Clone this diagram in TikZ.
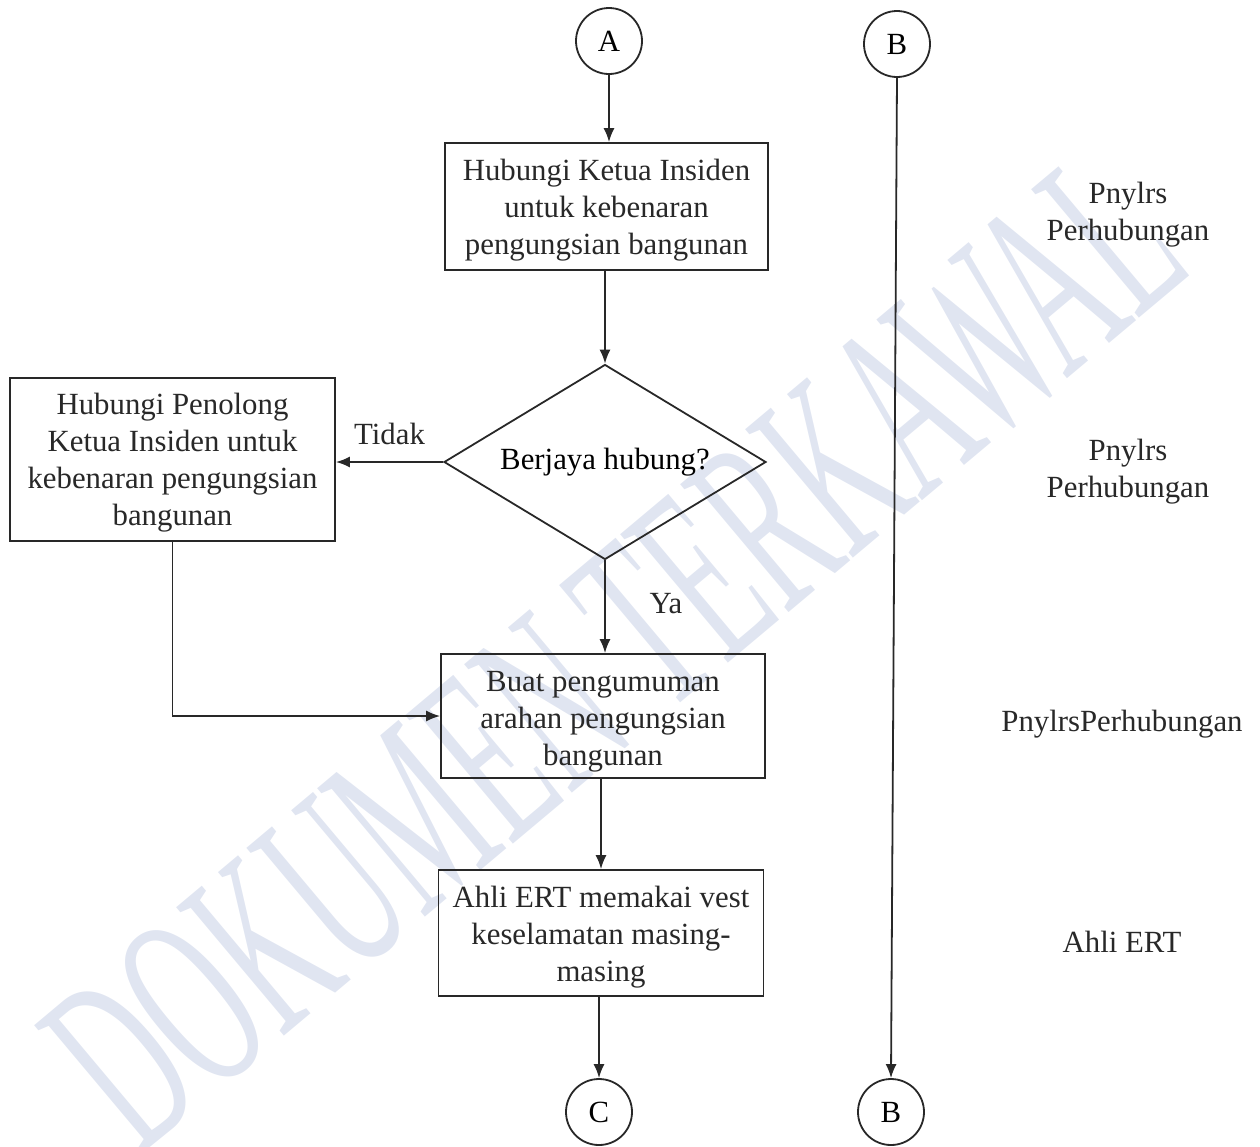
\documentclass[tikz,border=0pt]{standalone}
\usepackage{fontspec}
\setmainfont{Liberation Serif}
\usetikzlibrary{shapes.geometric,arrows.meta}
\definecolor{ink}{RGB}{40,40,40}
\definecolor{wmark}{RGB}{224,229,241}
\tikzset{
  box/.style={draw=ink,line width=0.9pt,rectangle,align=center,inner sep=0pt,
    font=\fontsize{15.4pt}{18.5pt}\selectfont},
  conn/.style={draw=ink,line width=0.9pt,circle,inner sep=0pt,minimum size=33pt,
    font=\fontsize{15.4pt}{18.5pt}\selectfont},
  decision/.style={draw=ink,line width=0.9pt,diamond,inner sep=0pt,aspect=1.65,
    minimum width=161pt,minimum height=97.5pt,font=\fontsize{15.4pt}{18.5pt}\selectfont},
  role/.style={align=center,text=ink,font=\fontsize{15.4pt}{18.5pt}\selectfont},
  lbl/.style={text=ink,font=\fontsize{15.4pt}{18.5pt}\selectfont},
  flow/.style={draw=ink,line width=0.9pt,-{Latex[length=7pt,width=5.5pt]}},
  boxtext/.style={text=ink,align=center,font=\fontsize{15.4pt}{18.5pt}\selectfont}
}
\begin{document}
\begin{tikzpicture}[x=0.5pt,y=-0.5pt]
\useasboundingbox (0,0) rectangle (1260,1147);
% watermark
\node[text=wmark,rotate=40,font=\fontsize{64pt}{64pt}\selectfont,yscale=2]
  (wm) at (615,650) {DOKUMEN TERKAWAL};
% nodes
\node[conn] (A) at (609,41) {A};
\node[conn] (Bt) at (897,44) {B};
\node[box,minimum width=161.5pt,minimum height=63.5pt] (b1) at (606.5,206.5) {};
\node[boxtext] (t1) at (606.5,210)
  {Hubungi Ketua Insiden\\untuk kebenaran\\pengungsian bangunan};
\node[decision] (d) at (605,462) {Berjaya hubung?};
\node[box,minimum width=162.5pt,minimum height=81.5pt] (lb) at (172.5,459.5) {};
\node[boxtext] (tl) at (172.5,462.5)
  {Hubungi Penolong\\Ketua Insiden untuk\\kebenaran pengungsian\\bangunan};
\node[box,minimum width=162pt,minimum height=62pt] (b3) at (603,716) {};
\node[boxtext] (t3) at (603,722)
  {Buat pengumuman\\arahan pengungsian\\bangunan};
\node[box,minimum width=162.5pt,minimum height=63pt] (b4) at (601,933) {};
\node[boxtext] (t4) at (601,937)
  {Ahli ERT memakai vest\\keselamatan masing-\\masing};
\node[conn] (C) at (599,1112) {C};
\node[conn] (Bb) at (891,1112) {B};
% role labels
\node[role] (r1) at (1128,215) {Pnylrs\\Perhubungan};
\node[role] (r2) at (1128,472) {Pnylrs\\Perhubungan};
\node[role] (r3) at (1122,724) {PnylrsPerhubungan};
\node[role] (r4) at (1122,942) {Ahli ERT};
% connectors
\draw[flow] (A.south) -- (A.south |- b1.north);
\draw[flow] (b1.south -| d.north) -- (d.north);
\draw[flow] (d.west) -- node[lbl,above=5pt,pos=0.5] (tidak) {Tidak} (lb.east |- d.west);
\draw[flow] (d.south) -- node[lbl,right=18.5pt,pos=0.47] (ya) {Ya} (d.south |- b3.north);
\coordinate (lc) at (lb.south |- b3.west);
\draw[flow] (lb.south) -- (lc) -- (b3.west);
\draw[flow] (b3.south -| b4.north) -- (b4.north);
\draw[flow] (b4.south -| C.north) -- (C.north);
\draw[flow] (Bt.south) -- (Bb.north);
\end{tikzpicture}
\end{document}
